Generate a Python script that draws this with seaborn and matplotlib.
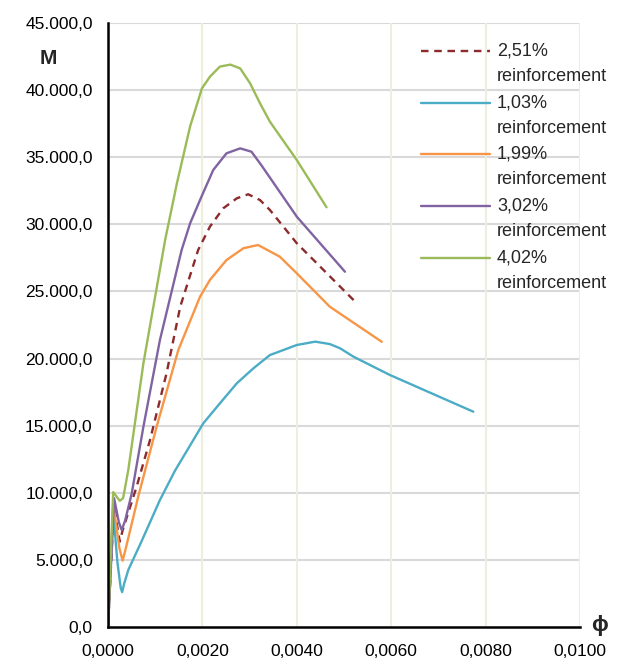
import numpy as np
import pandas as pd
import seaborn as sns
import matplotlib.pyplot as plt
from matplotlib.ticker import FuncFormatter, MultipleLocator
from matplotlib.lines import Line2D

# curvature (phi) vs moment (M) for each reinforcement ratio
phi_251 = [0, 0.00013, 0.00019, 0.00025, 0.00031, 0.00061, 0.00089, 0.00124,
           0.00153, 0.00191, 0.00216, 0.00244, 0.00273, 0.00297, 0.00322,
           0.00343, 0.0040, 0.00527]
m_251 = [0, 9300, 7600, 6360, 7200, 10500, 13930, 18900,
         23860, 28090, 29830, 31190, 31940, 32240, 31810,
         31070, 28590, 24120]

phi_103 = [0, 0.00011, 0.0002, 0.00027, 0.0003, 0.00034, 0.00043, 0.0007,
           0.0011, 0.00142, 0.00202, 0.00237, 0.00273, 0.00308, 0.00343,
           0.0040, 0.00439, 0.0047, 0.00492, 0.0052, 0.00597, 0.00774]
m_103 = [0, 8600, 4800, 2900, 2600, 3200, 4250, 6300,
         9460, 11650, 15180, 16660, 18160, 19270, 20260,
         21010, 21260, 21080, 20760, 20140, 18780, 16040]

phi_199 = [0, 0.00011, 0.00024, 0.00031, 0.00038, 0.00064, 0.00103, 0.00149,
           0.00195, 0.00216, 0.00251, 0.00287, 0.00318, 0.00364, 0.0040,
           0.0047, 0.0058]
m_199 = [0, 9220, 5900, 4940, 5900, 9710, 14920, 20640,
         24610, 25860, 27340, 28220, 28460, 27590, 26350,
         23860, 21250]

phi_302 = [0, 0.00013, 0.00023, 0.00029, 0.00036, 0.0005, 0.00075, 0.0011,
           0.00156, 0.00174, 0.00198, 0.00223, 0.00251, 0.0028, 0.00304,
           0.00326, 0.0040, 0.00502]
m_302 = [0, 9590, 7800, 7230, 7900, 9900, 14920, 21380,
         28090, 30080, 32060, 34050, 35290, 35660, 35410,
         34350, 30570, 26470]

phi_402 = [0, 0.00011, 0.00025, 0.00032, 0.00043, 0.00075, 0.00121, 0.00146,
           0.00174, 0.00199, 0.00216, 0.00237, 0.00259, 0.0028, 0.00301,
           0.00322, 0.00343, 0.0040, 0.00463]
m_402 = [0, 10050, 9400, 9600, 11700, 19650, 28830, 33060,
         37300, 40130, 41000, 41750, 41900, 41620, 40510,
         39020, 37650, 34790, 31270]

labels = ["2,51%", "1,03%", "1,99%", "3,02%", "4,02%"]
colors = ["#8B2B2B", "#4BACC6", "#F79646", "#8064A2", "#9BBB59"]
styles = [(0, (3.2, 2.4)), "-", "-", "-", "-"]

series = [(phi_251, m_251), (phi_103, m_103), (phi_199, m_199),
          (phi_302, m_302), (phi_402, m_402)]

sns.set_style("white")
plt.rcParams["font.family"] = ["Liberation Sans", "DejaVu Sans"]

W, H = 624, 662
fig = plt.figure(figsize=(W / 100, H / 100), dpi=100)
ax = fig.add_axes([108 / W, 1 - 627 / H, 472 / W, 604 / H])

for (x, y), lab, c, ls in zip(series, labels, colors, styles):
    df = pd.DataFrame({"phi": x, "M": y})
    sns.lineplot(data=df, x="phi", y="M", ax=ax, color=c, linewidth=1.7,
                 sort=False, estimator=None, linestyle=ls)

ax.set_xlim(0, 0.01)
ax.set_ylim(0, 45000)
ax.xaxis.set_major_locator(MultipleLocator(0.002))
ax.yaxis.set_major_locator(MultipleLocator(5000))
ax.yaxis.set_major_formatter(FuncFormatter(
    lambda v, p: f"{v:,.1f}".replace(",", " ").replace(".", ",").replace(" ", ".")))
ax.xaxis.set_major_formatter(FuncFormatter(lambda v, p: f"{v:.4f}".replace(".", ",")))

ax.set_xlabel("")
ax.set_ylabel("")
ax.grid(False)
for v in np.arange(5000, 45001, 5000):
    ax.axhline(v, color="#D9D9D9", linewidth=1.5, zorder=0)
for v in np.arange(0.002, 0.0101, 0.002):
    ax.axvline(v, color="#EEEEDF", linewidth=1.5, zorder=0)

for s in ["top", "right"]:
    ax.spines[s].set_visible(False)
for s in ["left", "bottom"]:
    ax.spines[s].set_color("black")
    ax.spines[s].set_linewidth(1.8)
ax.tick_params(axis="both", direction="out", length=6, width=1.8,
               color="black", labelsize=12.5, labelcolor="black")
ax.tick_params(axis="y", pad=5)
ax.tick_params(axis="x", pad=6)

fig.text(48 / W, 1 - 58 / H, "M", fontsize=15, fontweight="bold",
         ha="center", va="center")
fig.text(600 / W, 1 - 625 / H, "ϕ", fontsize=16, fontweight="bold",
         ha="center", va="center")

# legend drawn by hand so the key lines sit on the first text line
for i, (lab, c, ls) in enumerate(zip(labels, colors, styles)):
    yy = 1 - (51 + i * 51.7) / H
    fig.add_artist(Line2D([421 / W, 490 / W], [yy, yy], color=c,
                          linewidth=1.7, linestyle=ls))
    fig.text(497 / W, yy, lab, fontsize=13, va="center", ha="left")
    fig.text(497 / W, yy - 25.5 / H, "reinforcement", fontsize=13,
             va="center", ha="left")

fig.savefig("out.png", dpi=100)
